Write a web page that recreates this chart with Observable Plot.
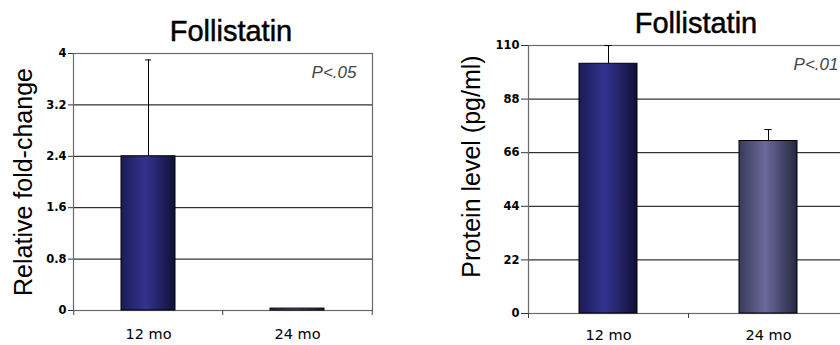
<!DOCTYPE html>
<html><head><meta charset="utf-8">
<script src="https://cdn.jsdelivr.net/npm/d3@7"></script>
<script src="https://cdn.jsdelivr.net/npm/@observablehq/plot@0.6"></script>
<style>
body{margin:0;background:#fff;}
#wrap{position:relative;width:840px;height:345px;overflow:hidden;background:#fff;}
#wrap > svg{position:absolute;top:0;overflow:visible;}
</style></head><body>
<svg width="0" height="0" style="position:absolute">
<defs>
<linearGradient id="gBlue" x1="0" x2="1" y1="0" y2="0">
<stop offset="0%" stop-color="#1b1b58"/>
<stop offset="45%" stop-color="#33338f"/>
<stop offset="100%" stop-color="#101038"/>
</linearGradient>
<linearGradient id="gGray" x1="0" x2="1" y1="0" y2="0">
<stop offset="0%" stop-color="#3a3a58"/>
<stop offset="45%" stop-color="#6a6a9c"/>
<stop offset="100%" stop-color="#262642"/>
</linearGradient>
</defs></svg>
<div id="wrap"></div>
<script>
const categories = ["12 mo", "24 mo"];
const foldValues = [2.4, 0.03];
const foldErrors = [1.5, 0];
const foldTicks = [0, 0.8, 1.6, 2.4, 3.2, 4];
const proteinValues = [102.5, 70.8];
const proteinErrors = [7.5, 4.7];
const proteinTicks = [0, 22, 44, 66, 88, 110];
const titles = ["Follistatin", "Follistatin"];
const yLabels = ["Relative fold-change", "Protein level (pg/ml)"];
const pLabels = ["P<.05", "P<.01"];
const barFills = ["url(#gBlue)", "url(#gGray)"];

function makeChart(cfg) {
  const {values, errors, ticks, title, ylabel, plabel, width, height, ml, mr, mt, mb,
         titleDx, titleDy, labelDx, labelDy, pDx, pDy, tickSize, tickPadding, capW, xDy} = cfg;
  const rows = categories.map((c, i) => ({cat: c, v: values[i], e: errors[i], fill: barFills[i]}));
  const step = (width - ml - mr) / categories.length;
  const pInner = 0.64;
  const bw = step * (1 - pInner);
  const sans = "Liberation Sans, Arial, sans-serif";
  return Plot.plot({
    width, height,
    marginLeft: ml, marginRight: mr, marginTop: mt, marginBottom: mb,
    style: {background: "transparent", overflow: "visible"},
    x: {domain: categories, paddingInner: pInner, paddingOuter: pInner / 2, axis: null},
    y: {domain: [ticks[0], ticks[ticks.length - 1]], axis: null},
    color: {type: "identity"},
    marks: [
      Plot.ruleY(ticks.slice(1, -1), {stroke: "#000", strokeWidth: 1}),
      Plot.frame({stroke: "#6a6a6a", strokeWidth: 1.2}),
      Plot.axisY(ticks, {tickSize, tickPadding, label: null, tickFormat: d => String(d),
        fontSize: 11.5, fontWeight: "bold", fontFamily: "DejaVu Sans, sans-serif", stroke: "#333"}),
      Plot.ruleX(categories, {x: d => d, y1: 0, y2: 0, insetTop: 0, insetBottom: -5, dx: -step / 2, stroke: "#444"}),
      Plot.ruleX(categories.slice(-1), {x: d => d, y1: 0, y2: 0, insetTop: 0, insetBottom: -5, dx: step / 2, stroke: "#444"}),
      Plot.ruleX(rows.filter(d => d.e > 0), {x: "cat", y1: "v", y2: d => d.v + d.e, stroke: "#000", strokeWidth: 1}),
      Plot.tickY(rows.filter(d => d.e > 0), {x: "cat", y: d => d.v + d.e, stroke: "#000", strokeWidth: 1,
        insetLeft: (bw - capW) / 2, insetRight: (bw - capW) / 2}),
      Plot.barY(rows, {x: "cat", y: "v", fill: "fill", stroke: "#000", strokeWidth: 1}),
      Plot.text(categories, {x: d => d, text: d => d, frameAnchor: "bottom", lineAnchor: "top", dy: xDy,
        fontSize: 14.5, fontFamily: "DejaVu Sans, sans-serif", fill: "#000", wordSpacing: -2}),
      Plot.text([title], {text: d => d, frameAnchor: "top", lineAnchor: "top", dx: titleDx, dy: titleDy,
        fontSize: 29, fontFamily: sans, fill: "#000", stroke: "#000", strokeWidth: 0.5}),
      Plot.text([ylabel], {text: d => d, frameAnchor: "left", rotate: -90, lineAnchor: "middle", textAnchor: "middle",
        dx: labelDx, dy: labelDy, fontSize: 25, fontFamily: sans, fill: "#000"}),
      Plot.text([plabel], {text: d => d, frameAnchor: "top-right", textAnchor: "end", lineAnchor: "top",
        dx: pDx, dy: pDy, fontSize: 17, fontStyle: "italic", fontFamily: sans, fill: "#444", letterSpacing: 1.2})
    ]
  });
}

const wrap = document.getElementById("wrap");
const left = makeChart({values: foldValues, errors: foldErrors, ticks: foldTicks, title: titles[0], ylabel: yLabels[0], plabel: pLabels[0],
  width: 420, height: 345, ml: 73, mr: 48, mt: 53, mb: 35,
  titleDx: 8, titleDy: -33, labelDx: -50, labelDy: 0, pDx: -16, pDy: 12, tickSize: 5, tickPadding: 2, capW: 6, xDy: 18});
left.style.left = "0px";
wrap.appendChild(left);
const right = makeChart({values: proteinValues, errors: proteinErrors, ticks: proteinTicks, title: titles[1], ylabel: yLabels[1], plabel: pLabels[1],
  width: 440, height: 345, ml: 108, mr: 12, mt: 45, mb: 32,
  titleDx: 7.5, titleDy: -33, labelDx: -57, labelDy: -13, pDx: -10, pDy: 12, tickSize: 7, tickPadding: 2, capW: 7, xDy: 16});
right.style.left = "420px";
wrap.appendChild(right);
</script>
</body></html>
